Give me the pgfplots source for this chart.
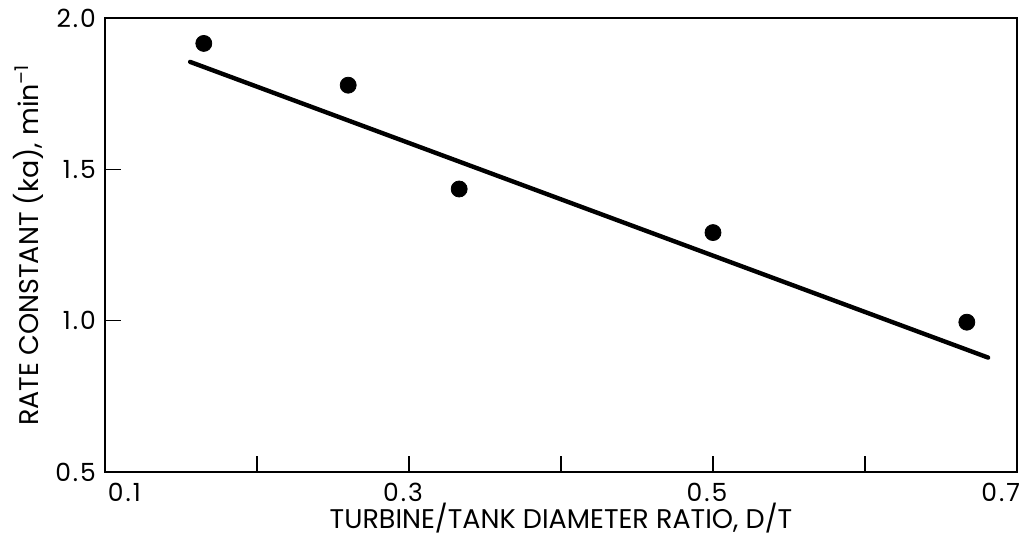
\documentclass[border=0pt]{standalone}
\usepackage{fontspec}
\setmainfont{Poppins}
\newfontfamily\tickfont[LetterSpace=8]{Poppins}
\usepackage{pgfplots}
\pgfplotsset{compat=1.18}
\begin{document}
\begin{tikzpicture}
\begin{axis}[
  scale only axis,
  width=456pt, height=227pt,
  xmin=0.1, xmax=0.7, ymin=0.5, ymax=2.0,
  xtick={0.2,0.3,0.4,0.5,0.6},
  xticklabels={,0.3,,0.5,},
  extra x ticks={0.1,0.7},
  extra x tick labels={\makebox[0pt][l]{0.1},\makebox[0pt][r]{0.7}},
  extra x tick style={major tick length=0pt, xticklabel style={xshift=4.5pt}},
  ytick={0.5,1.0,1.5,2.0},
  yticklabels={0.5,1.0,1.5,2.0},
  xtick pos=bottom, ytick pos=left,
  tick align=inside,
  major tick length=8pt,
  axis line style={line width=0.9pt},
  every tick/.style={black, line width=0.8pt},
  tick label style={font=\tickfont\fontsize{12.5}{14}\selectfont},
  /pgf/number format/assume math mode=true,
  xticklabel style={yshift=-2pt, xshift=-3pt},
  yticklabel style={xshift=-1pt},
  xlabel={TURBINE/TANK DIAMETER RATIO, D/T},
  ylabel={RATE CONSTANT (ka), min\textsuperscript{--1}},
  label style={font=\fontsize{13.5}{15}\selectfont},
  xlabel style={yshift=6pt},
  ylabel style={yshift=-1pt},
]
\addplot[only marks, mark=*, mark size=4pt, black] coordinates {
  (0.165,1.916) (0.260,1.778) (0.333,1.435) (0.500,1.291) (0.667,0.995)
};
\addplot[black, line width=2.2pt, line cap=round] coordinates {
  (0.156,1.855) (0.681,0.878)
};
\end{axis}
\pgfresetboundingbox
\path ([shift={(-52.5pt,-34pt)}]current axis.south west) rectangle ([shift={(5.5pt,9pt)}]current axis.north east);
\end{tikzpicture}
\end{document}
